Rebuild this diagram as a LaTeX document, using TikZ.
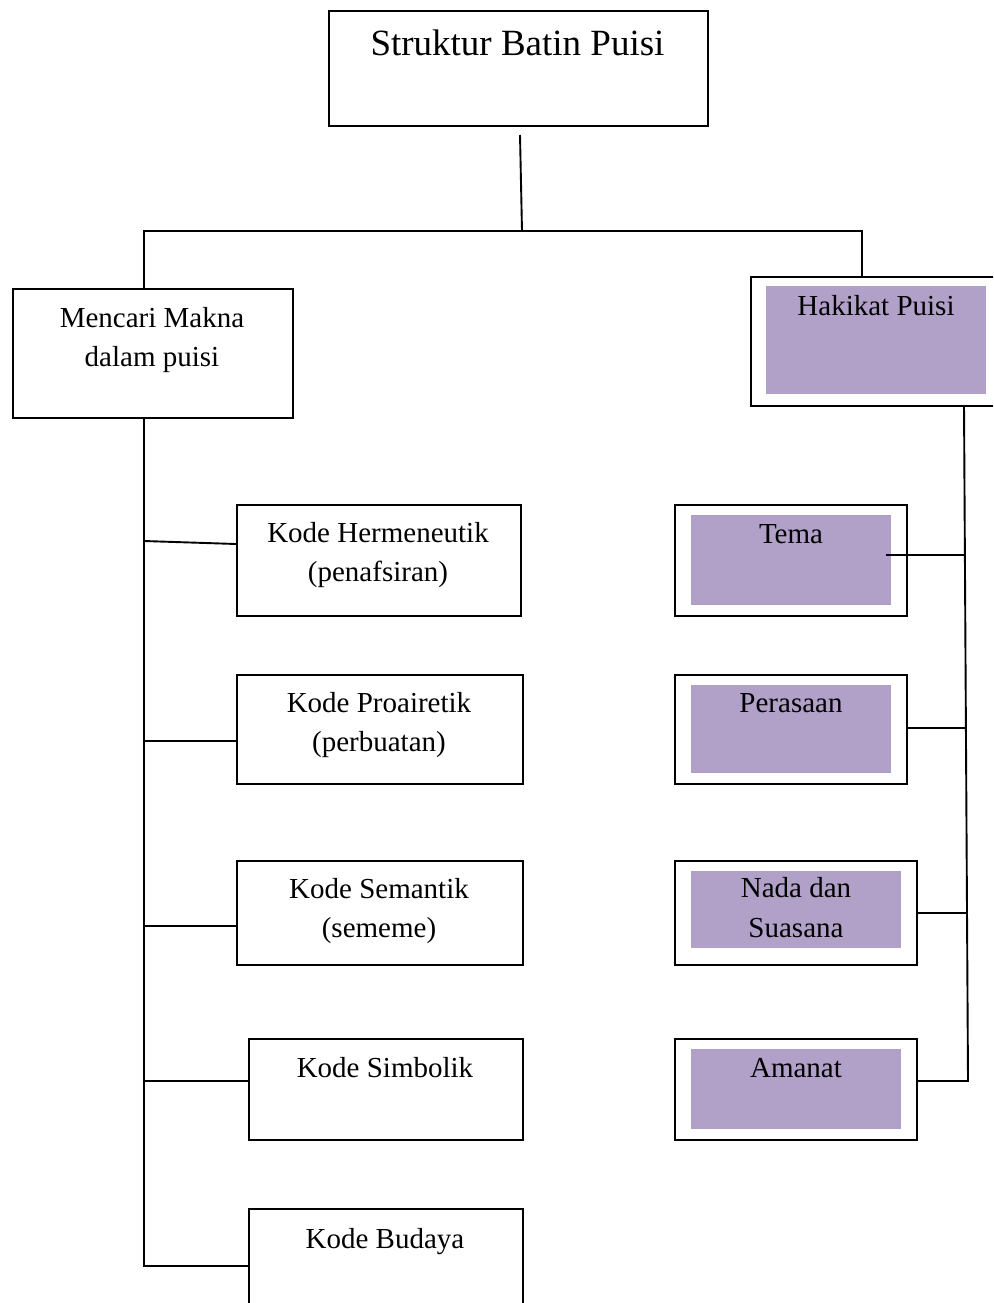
\documentclass[tikz,border=0pt]{standalone}
\usepackage{fontspec}
\setmainfont{Liberation Serif}
\usetikzlibrary{calc}
\definecolor{lav}{RGB}{177,160,199}
\begin{document}
\begin{tikzpicture}[x=1pt,y=-1pt,
  box/.style={draw, line width=1.9pt, rectangle, inner sep=0pt, anchor=north west},
  inbox/.style={fill=lav, rectangle, inner sep=0pt, anchor=north west},
  txt/.style={font=\fontsize{29}{39}\selectfont, anchor=base, inner sep=0pt},
  conn/.style={line width=1.9pt}]
\useasboundingbox (0,0) rectangle (993,1303);
\clip (0,0) rectangle (993,1303);
\fill[white] (0,0) rectangle (993,1303);

% title
\node[box, minimum width=379pt, minimum height=115pt] (title) at (328,10) {};
\node[txt, font=\fontsize{37}{44}\selectfont] (titleT) at (517.5,56) {Struktur Batin Puisi};

% left main
\node[box, minimum width=280pt, minimum height=129pt] (mencari) at (12,288) {};
\node[txt] (mencariA) at (152,327) {Mencari Makna};
\node[txt] (mencariB) at (152,366) {dalam puisi};

% right main
\node[box, minimum width=260pt, minimum height=129pt] (hak) at (750,276) {};
\node[inbox, minimum width=220pt, minimum height=108pt] (hakIn) at (766,286) {};
\node[txt] (hakT) at (876,315) {Hakikat Puisi};

% left column
\node[box, minimum width=284pt, minimum height=111pt] (herm) at (236,504) {};
\node[txt] (hermA) at (378,542) {Kode Hermeneutik};
\node[txt] (hermB) at (378,581) {(penafsiran)};

\node[box, minimum width=286pt, minimum height=109pt] (proa) at (236,674) {};
\node[txt] (proaA) at (379,712) {Kode Proairetik};
\node[txt] (proaB) at (379,751) {(perbuatan)};

\node[box, minimum width=286pt, minimum height=104pt] (sem) at (236,860) {};
\node[txt] (semA) at (379,898) {Kode Semantik};
\node[txt] (semB) at (379,937) {(sememe)};

\node[box, minimum width=274pt, minimum height=101pt] (simb) at (248,1038) {};
\node[txt] (simbT) at (385,1077) {Kode Simbolik};

\node[box, minimum width=274pt, minimum height=130pt] (bud) at (248,1208) {};
\node[txt] (budT) at (385,1248) {Kode Budaya};

% right column
\node[box, minimum width=232pt, minimum height=111pt] (tema) at (674,504) {};
\node[inbox, minimum width=200pt, minimum height=90pt] (temaIn) at (691,515) {};
\node[txt] (temaT) at (791,543) {Tema};

\node[box, minimum width=232pt, minimum height=109pt] (pers) at (674,674) {};
\node[inbox, minimum width=200pt, minimum height=88pt] (persIn) at (691,685) {};
\node[txt] (persT) at (791,712) {Perasaan};

\node[box, minimum width=242pt, minimum height=104pt] (nada) at (674,860) {};
\node[inbox, minimum width=210pt, minimum height=77pt] (nadaIn) at (691,871) {};
\node[txt] (nadaA) at (796,897) {Nada dan};
\node[txt] (nadaB) at (796,937) {Suasana};

\node[box, minimum width=242pt, minimum height=101pt] (aman) at (674,1038) {};
\node[inbox, minimum width=210pt, minimum height=80pt] (amanIn) at (691,1049) {};
\node[txt] (amanT) at (796,1077) {Amanat};

% connectors top
\coordinate (tb) at (520,135);
\coordinate (bar) at (522,231);
\coordinate (barL) at (144,231);
\coordinate (barR) at (862,231);
\draw[conn] (tb) -- (bar);
\draw[conn] (mencari.north -| barL) -- (barL) -- (barR) -- (barR |- hak.north);

% left trunk
\coordinate (lt) at (144,1266);
\coordinate (l1) at (144,541);
\coordinate (l2) at (144,741);
\coordinate (l3) at (144,926);
\coordinate (l4) at (144,1081);
\coordinate (h1) at (236,544);
\draw[conn] (barL |- mencari.south) -- (lt) -- (lt -| bud.west);
\draw[conn] (l1) -- (h1);
\draw[conn] (l2) -- (l2 -| proa.west);
\draw[conn] (l3) -- (l3 -| sem.west);
\draw[conn] (l4) -- (l4 -| simb.west);

% right trunk
\coordinate (rt0) at (964,405);
\coordinate (rt1) at (968,1081);
\coordinate (r1) at (965,555);
\coordinate (r1s) at (886,555);
\coordinate (r2) at (966,728);
\coordinate (r3) at (967,913);
\draw[conn] (rt0) -- (rt1) -- (rt1 -| aman.east);
\draw[conn] (r1s) -- (r1);
\draw[conn] (r2) -- (r2 -| pers.east);
\draw[conn] (r3) -- (r3 -| nada.east);
\end{tikzpicture}
\end{document}
